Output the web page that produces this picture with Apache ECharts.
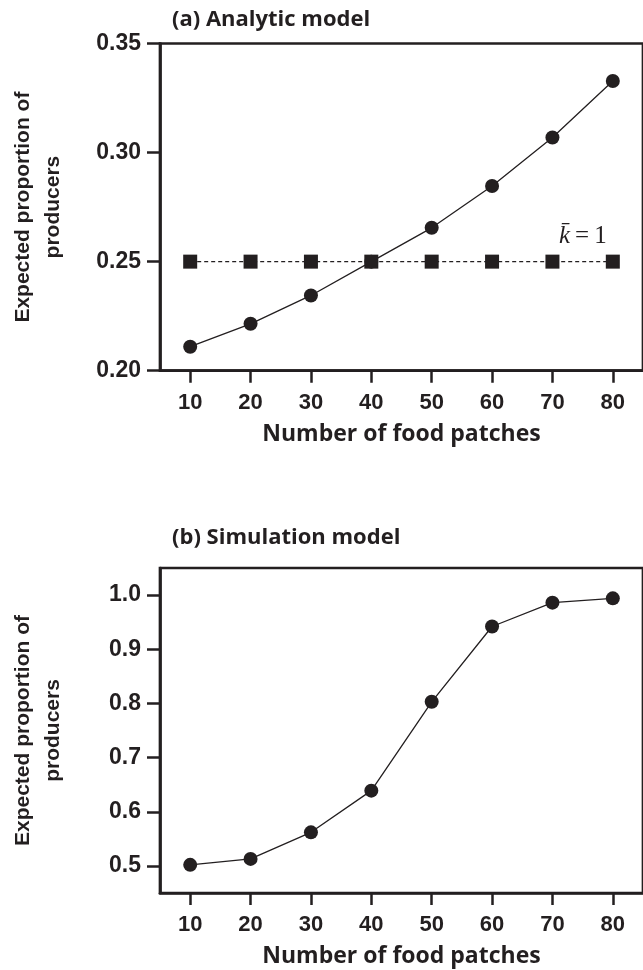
<!DOCTYPE html>
<html>
<head>
<meta charset="utf-8">
<script src="https://cdn.jsdelivr.net/npm/echarts@6/dist/echarts.min.js"></script>
<style>
html,body{margin:0;padding:0;background:#fff;overflow:hidden;}
#chart{width:643px;height:970px;}
</style>
</head>
<body>
<div id="chart"></div>
<script>
// ---- data ----
const categories = ['10','20','30','40','50','60','70','80'];
const analyticValues = [0.211, 0.2215, 0.2345, 0.250, 0.2655, 0.2847, 0.3069, 0.3328];
const kbarValues = [0.25, 0.25, 0.25, 0.25, 0.25, 0.25, 0.25, 0.25];
const simulationValues = [0.502, 0.513, 0.562, 0.639, 0.803, 0.942, 0.986, 0.994];
const yTicksA = [0.20, 0.25, 0.30, 0.35];
const yTicksB = [0.5, 0.6, 0.7, 0.8, 0.9, 1.0];
const titleA = '(a) Analytic model';
const titleB = '(b) Simulation model';
const xTitle = 'Number of food patches';
const yTitle = 'Expected proportion of\nproducers';

const INK = '#231f20';
const xTickFont = {fontFamily:'Liberation Sans', fontWeight:'bold', fontSize:22, color:INK};
const yTickFont = {fontFamily:'Liberation Sans', fontWeight:'bold', fontSize:23, color:INK};
const headFont = 'Open Sans';

const chart = echarts.init(document.getElementById('chart'), null, {renderer:'canvas'});

function xAxisCfg(gridIndex){
  return {
    type:'category', gridIndex, data:categories, boundaryGap:true,
    axisLine:{show:true, lineStyle:{color:INK, width:2.7}},
    axisTick:{show:true, alignWithLabel:true, length:12, lineStyle:{color:INK, width:2.5}},
    axisLabel:Object.assign({margin:21}, xTickFont),
    splitLine:{show:false},
    name:xTitle, nameLocation:'middle', nameGap:52,
    nameTextStyle:{fontFamily:headFont, fontWeight:'bold', fontSize:23, color:INK}
  };
}
function yAxisCfg(gridIndex, min, max, interval, ticks, digits){
  return {
    type:'value', gridIndex, min, max, interval,
    axisLine:{show:true, lineStyle:{color:INK, width:2.7}},
    axisTick:{show:true, length:13, lineStyle:{color:INK, width:2.5}, customValues:ticks},
    axisLabel:Object.assign({margin:19, customValues:ticks, formatter:v=>v.toFixed(digits)}, yTickFont),
    splitLine:{show:false},
    name:yTitle, nameLocation:'middle', nameGap:92,
    nameTextStyle:{fontFamily:'Liberation Sans', fontWeight:'bold', fontSize:21, color:INK, lineHeight:30, align:'center'}
  };
}

const option = {
  backgroundColor:'#fff',
  animation:false,
  grid:[
    {left:155.7, top:43.5, bottom:599.3, right:-4.3, show:true, borderColor:INK, borderWidth:2.7, backgroundColor:'transparent', containLabel:false},
    {left:157, top:568, bottom:77, right:-5.6, show:true, borderColor:INK, borderWidth:2.7, backgroundColor:'transparent', containLabel:false}
  ],
  xAxis:[xAxisCfg(0), xAxisCfg(1)],
  yAxis:[
    yAxisCfg(0, 0.20, 0.35, 0.05, yTicksA, 2),
    yAxisCfg(1, 0.45, 1.05, 0.05, yTicksB, 1)
  ],
  series:[
    {type:'line', xAxisIndex:0, yAxisIndex:0, data:analyticValues, symbol:'circle', symbolSize:14,
     itemStyle:{color:INK}, lineStyle:{color:INK, width:1.3}, z:3},
    {type:'line', xAxisIndex:0, yAxisIndex:0, data:kbarValues, symbol:'rect', symbolSize:14,
     itemStyle:{color:INK}, lineStyle:{color:INK, width:1.2, type:[4,3]}, z:4},
    {type:'line', xAxisIndex:1, yAxisIndex:1, data:simulationValues, symbol:'circle', symbolSize:14,
     itemStyle:{color:INK}, lineStyle:{color:INK, width:1.3}, z:3}
  ],
  graphic:[
    {type:'text', left:172, top:9, style:{text:titleA, fontFamily:headFont, fontWeight:'bold', fontSize:22, fill:INK}},
    {type:'text', left:172, top:527, style:{text:titleB, fontFamily:headFont, fontWeight:'bold', fontSize:22, fill:INK}},
    {type:'text', left:559, top:224, style:{
      rich:{k:{fontFamily:'Liberation Serif', fontStyle:'italic', fontSize:25, fill:INK},
            e:{fontFamily:'Liberation Serif', fontSize:25, fill:INK}},
      text:'{k|k\u0304}{e|\u2009=\u20091}'}}
  ]
};
chart.setOption(option);
</script>
</body>
</html>
